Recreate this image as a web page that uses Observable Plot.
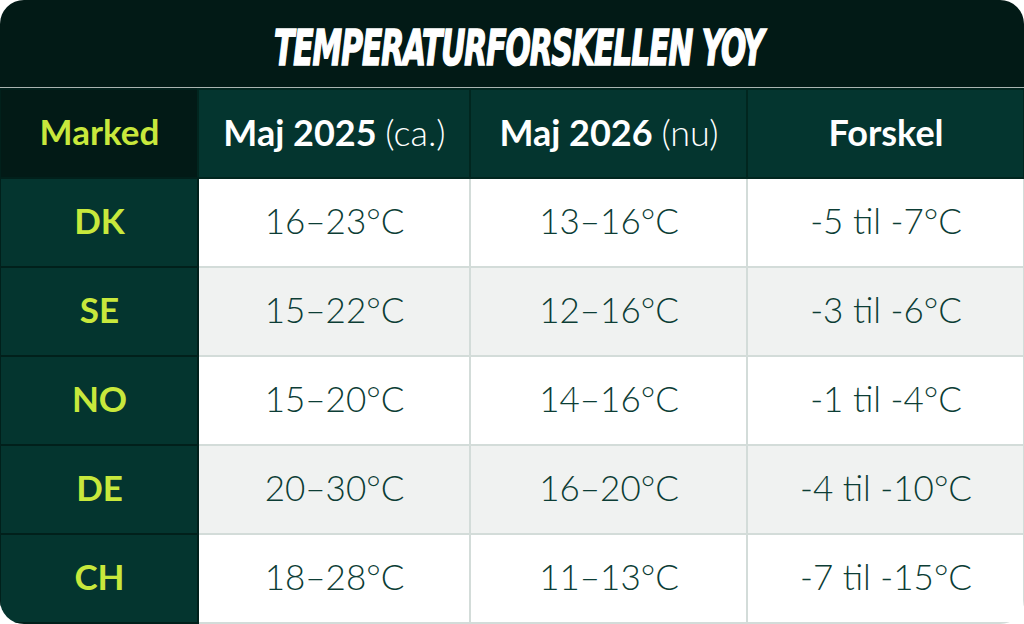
<!DOCTYPE html>
<html>
<head>
<meta charset="utf-8">
<script src="https://cdn.jsdelivr.net/npm/d3@7"></script>
<script src="https://cdn.jsdelivr.net/npm/@observablehq/plot@0.6"></script>
<style>
  html, body { margin: 0; padding: 0; background: #ffffff; }
  #wrap { width: 1024px; height: 624px; border-radius: 24px; overflow: hidden; position: relative; background: #ffffff; }
  #title { height: 88px; background: #021a16; border-bottom: 1.5px solid #aab4b1; box-sizing: border-box;
           display: flex; align-items: center; justify-content: center; }
  #title span { color: #ffffff; font-family: "Liberation Sans Narrow", "DejaVu Sans Condensed", sans-serif;
           font-weight: 700; font-style: italic; font-size: 50px; letter-spacing: -1.5px; display: inline-block;
           -webkit-text-stroke: 1.6px #ffffff; transform: scaleX(0.66); margin-top: 8px; margin-left: 14px; }
  #chart svg { display: block; }
</style>
</head>
<body>
<div id="wrap">
  <div id="title"><span>TEMPERATURFORSKELLEN YOY</span></div>
  <div id="chart"></div>
</div>
<script>
// ---- data ----
const headers = ["Marked", "Maj 2025 (ca.)", "Maj 2026 (nu)", "Forskel"];
const markets = ["DK", "SE", "NO", "DE", "CH"];
const may2025 = ["16–23°C", "15–22°C", "15–20°C", "20–30°C", "18–28°C"];
const may2026 = ["13–16°C", "12–16°C", "14–16°C", "16–20°C", "11–13°C"];
const forskel = ["-5 til -7°C", "-3 til -6°C", "-1 til -4°C", "-4 til -10°C", "-7 til -15°C"];

// ---- layout (not data) ----
const colWeights = [198, 272, 277, 277];
const colEdges = [0];
colWeights.forEach(w => colEdges.push(colEdges[colEdges.length - 1] + w));
const total = colEdges[colEdges.length - 1];

const rowKeys = ["header", ...markets];
const cells = [];
headers.forEach((h, c) => cells.push({row: "header", col: c, text: h, kind: c === 0 ? "corner" : "head"}));
markets.forEach((m, r) => {
  const vals = [m, may2025[r], may2026[r], forskel[r]];
  vals.forEach((v, c) => cells.push({row: m, col: c, text: v, kind: c === 0 ? "label" : (r % 2 ? "alt" : "body")}));
});
cells.forEach(d => { d.x1 = colEdges[d.col]; d.x2 = colEdges[d.col + 1]; d.xc = (d.x1 + d.x2) / 2; });

const fills = {corner: "#021a16", head: "#04352f", label: "#04352f", body: "#ffffff", alt: "#f0f2f1"};
const strokes = {corner: "#01201b", head: "#01261f", label: "#01201b", body: "#d3dcd9", alt: "#d3dcd9"};
const colors = {corner: "#c8e83c", head: "#ffffff", label: "#c8e83c", body: "#0c3d35", alt: "#0c3d35"};

const isBody = d => d.kind === "body" || d.kind === "alt";
const bodyCells = cells.filter(isBody);
const darkCells = cells.filter(d => !isBody(d));

const W = 1024, H = 536;
const plot = Plot.plot({
  width: W,
  height: H,
  margin: 0,
  style: {fontFamily: "Lato, sans-serif", background: "transparent"},
  x: {domain: [0, total], range: [0, W], axis: null},
  y: {domain: rowKeys, range: [0, H], padding: 0, axis: null},
  marks: [
    Plot.barX(bodyCells, {x1: "x1", x2: "x2", y: "row", fill: d => fills[d.kind], stroke: d => strokes[d.kind], strokeWidth: 2, inset: 0}),
    Plot.barX(darkCells, {x1: "x1", x2: "x2", y: "row", fill: d => fills[d.kind], stroke: d => strokes[d.kind], strokeWidth: 2, inset: 0}),
    Plot.text(bodyCells, {
      x: "xc", y: "row", text: "text", fill: d => colors[d.kind], fontSize: 35, fontWeight: 300
    }),
    Plot.text(cells.filter(d => d.kind === "label" || d.kind === "corner"), {
      x: "xc", y: "row", text: "text", fill: d => colors[d.kind], fontSize: 35, fontWeight: 700
    }),
    Plot.text(cells.filter(d => d.kind === "head"), {
      x: "xc", y: "row", text: "text", fill: d => colors[d.kind], fontSize: 36, fontWeight: 700
    })
  ]
});

// split header labels into bold + regular parts
d3.select(plot).selectAll("text").each(function () {
  const t = this.textContent;
  const i = t.indexOf(" (");
  if (i > 0) {
    const sel = d3.select(this);
    sel.text(null);
    sel.append("tspan").attr("font-weight", 700).text(t.slice(0, i) + " ");
    sel.append("tspan").attr("font-weight", 300).text(t.slice(i + 1));
  }
});

document.getElementById("chart").appendChild(plot);
</script>
</body>
</html>
